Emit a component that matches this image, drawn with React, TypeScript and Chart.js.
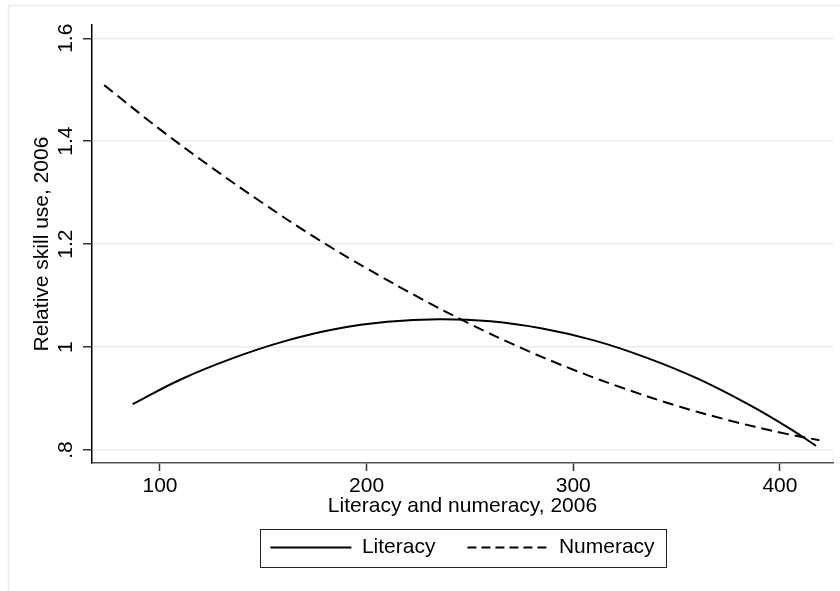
import React, { useEffect, useRef } from 'react';
import { Chart, registerables } from 'chart.js';

Chart.register(...registerables);

// ---- data ----
const X_TICKS = [100, 200, 300, 400];
const Y_TICKS = [0.8, 1.0, 1.2, 1.4, 1.6];
const Y_TICK_LABELS = ['.8', '1', '1.2', '1.4', '1.6'];

const LITERACY_X = [86.8, 110, 135, 160, 185, 210, 235, 260, 285, 310, 335, 360, 385, 405, 417.5];
const LITERACY_Y = [0.889, 0.937, 0.978, 1.011, 1.035, 1.049, 1.054, 1.050, 1.036, 1.013, 0.980, 0.939, 0.888, 0.841, 0.808];

const NUMERACY_X = [73, 100, 125, 150, 175, 200, 225, 250, 275, 300, 325, 350, 375, 400, 419.1];
const NUMERACY_Y = [1.509, 1.423, 1.349, 1.279, 1.213, 1.153, 1.097, 1.045, 0.998, 0.956, 0.919, 0.886, 0.858, 0.834, 0.819];

const SERIES_LABELS = ['Literacy', 'Numeracy'];
const X_TITLE = 'Literacy and numeracy, 2006';
const Y_TITLE = 'Relative skill use, 2006';

const X_MIN = 67.1;
const X_MAX = 425.7;
const Y_MIN = 0.7747;
const Y_MAX = 1.6258;

const FONT = "'Liberation Sans', Arial, Helvetica, sans-serif";

const framePlugin = {
  id: 'stataFrame',
  beforeDraw(chart: any) {
    const ctx = chart.ctx;
    ctx.save();
    ctx.strokeStyle = '#ebebeb';
    ctx.lineWidth = 1.5;
    ctx.beginPath();
    ctx.moveTo(8.5, chart.height + 2);
    ctx.lineTo(8.5, 5.5);
    ctx.lineTo(chart.width + 2, 5.5);
    ctx.stroke();
    ctx.restore();
  },
  afterDraw(chart: any) {
    const lg = chart.legend;
    if (!lg || !lg.legendHitBoxes || !lg.legendHitBoxes.length) return;
    const hb = lg.legendHitBoxes;
    let left = Infinity;
    let right = -Infinity;
    let cy = 0;
    hb.forEach((h: any) => {
      left = Math.min(left, h.left);
      right = Math.max(right, h.left + h.width);
      cy = h.top + h.height / 2;
    });
    const ctx = chart.ctx;
    ctx.save();
    ctx.strokeStyle = '#222';
    ctx.lineWidth = 1;
    ctx.strokeRect(Math.round(left - 10) + 0.5, Math.round(cy - 19) + 0.5, Math.round(right - left + 22), 38);
    ctx.restore();
  },
};

export default function App() {
  const ref = useRef<HTMLCanvasElement | null>(null);

  useEffect(() => {
    if (!ref.current) return;
    const lit = LITERACY_X.map((x, i) => ({ x, y: LITERACY_Y[i] }));
    const num = NUMERACY_X.map((x, i) => ({ x, y: NUMERACY_Y[i] }));

    const chart = new Chart(ref.current, {
      type: 'line',
      data: {
        datasets: [
          {
            label: SERIES_LABELS[0],
            data: lit,
            borderColor: '#000',
            borderWidth: 2,
            pointRadius: 0,
            tension: 0.4,
            fill: false,
          },
          {
            label: SERIES_LABELS[1],
            data: num,
            borderColor: '#000',
            borderWidth: 2,
            borderDash: [11, 6],
            pointRadius: 0,
            tension: 0.4,
            fill: false,
          },
        ],
      },
      options: {
        responsive: false,
        animation: false,
        events: [],
        layout: { padding: { left: 30, top: 25, right: 7, bottom: 23 } },
        font: { family: FONT },
        scales: {
          x: {
            type: 'linear',
            min: X_MIN,
            max: X_MAX,
            afterBuildTicks: (scale: any) => {
              scale.ticks = X_TICKS.map((v) => ({ value: v }));
            },
            afterFit: (scale: any) => {
              scale.height = 42;
            },
            grid: {
              drawOnChartArea: false,
              drawTicks: true,
              tickLength: 8,
              tickColor: '#333',
              tickWidth: 1.5,
            },
            border: { display: true, color: '#555', width: 1.5 },
            ticks: {
              padding: 3,
              color: '#000',
              maxRotation: 0,
              minRotation: 0,
              font: { family: FONT, size: 21 },
              callback: (v: any) => String(v),
            },
            title: {
              display: true,
              text: X_TITLE,
              color: '#000',
              font: { family: FONT, size: 21 },
              padding: { top: 0, bottom: -13.6 },
            },
          },
          y: {
            type: 'linear',
            min: Y_MIN,
            max: Y_MAX,
            afterBuildTicks: (scale: any) => {
              scale.ticks = Y_TICKS.map((v) => ({ value: v }));
            },
            afterFit: (scale: any) => {
              scale.width = 62;
            },
            grid: {
              drawOnChartArea: true,
              color: '#ebebeb',
              lineWidth: 1.5,
              drawTicks: true,
              tickLength: 9,
              tickColor: '#333',
              tickWidth: 1.5,
            },
            border: { display: true, color: '#000', width: 1.5 },
            ticks: {
              padding: 2,
              color: '#000',
              minRotation: 90,
              maxRotation: 90,
              crossAlign: 'center',
              font: { family: FONT, size: 21 },
              callback: (v: any) => {
                const i = Y_TICKS.findIndex((t) => Math.abs(t - Number(v)) < 1e-9);
                return i >= 0 ? Y_TICK_LABELS[i] : '';
              },
            },
            title: {
              display: true,
              text: Y_TITLE,
              color: '#000',
              font: { family: FONT, size: 21 },
              padding: { top: 0, bottom: 0 },
            },
          },
        },
        plugins: {
          legend: {
            display: true,
            position: 'bottom',
            fullSize: false,
            labels: {
              color: '#000',
              font: { family: FONT, size: 21 },
              usePointStyle: true,
              pointStyle: 'line',
              pointStyleWidth: 81,
              padding: 32,
              generateLabels: (ch: any) =>
                ch.data.datasets.map((ds: any, i: number) => ({
                  text: ds.label,
                  fillStyle: 'rgba(0,0,0,0)',
                  strokeStyle: '#000',
                  lineWidth: 2,
                  lineDash: ds.borderDash ? [9, 5] : [],
                  lineCap: 'butt',
                  pointStyle: 'line',
                  hidden: false,
                  fontColor: '#000',
                  datasetIndex: i,
                })),
            },
          },
          tooltip: { enabled: false },
        },
      },
      plugins: [framePlugin],
    } as any);

    return () => chart.destroy();
  }, []);

  return (
    <div style={{ position: 'fixed', left: 0, top: 0, width: 840, height: 591, background: '#fff' }}>
      <canvas ref={ref} width={840} height={591} style={{ display: 'block' }} />
    </div>
  );
}
